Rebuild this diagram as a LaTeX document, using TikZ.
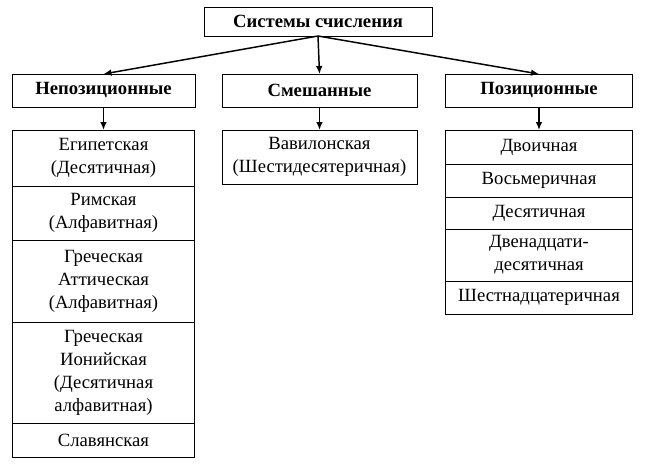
\documentclass[tikz,border=0pt]{standalone}
\usepackage{fontspec}
\setmainfont{Liberation Serif}
\usepackage{tikz}
\usetikzlibrary{shapes,arrows,arrows.meta}
\usetikzlibrary{positioning}

\begin{document}
\begin{tikzpicture}[>={Latex[length=6pt,width=5pt]},x=0.75pt,y=-0.75pt]

\tikzstyle{box} = [draw, rectangle, fill=white, line width=0.75pt, outer sep=0pt, inner sep=2pt, align=center, font={\fontsize{14}{17.25}\selectfont}];
\tikzstyle{head} = [box, minimum height=24.75pt, font={\bfseries\fontsize{14}{17.25}\selectfont}];
\tikzstyle{leftCell} = [box, minimum width=136.5pt];
\tikzstyle{midCell} = [box, minimum width=146.25pt];
\tikzstyle{rightCell} = [box, minimum width=140.25pt];
\tikzstyle{treeEdge} = [black, line width=1.1pt, ->];

\useasboundingbox (0,0) rectangle (645,468);

\node[head, name=root, minimum width=171pt, minimum height=21.75pt] at (318,21.5) {Системы счисления};
\node[head, name=nonpos, minimum width=137.25pt] at (103.5,90.5) {Непозиционные};
\node[head, name=mixed, minimum width=146.25pt] at (319.5,90.5) {Смешанные};
\node[head, name=pos, minimum width=140.25pt] at (539,90.5) {Позиционные};

% непозиционные
\node[leftCell, name=egypt, minimum height=42pt, below=17.25pt of nonpos] {Египетская\\(Десятичная)};
\node[leftCell, name=roman, minimum height=40.5pt, below=0pt of egypt] {Римская\\(Алфавитная)};
\node[leftCell, name=attic, minimum height=61.5pt, below=0pt of roman] {Греческая\\Аттическая\\(Алфавитная)};
\node[leftCell, name=ionic, minimum height=75.75pt, below=0pt of attic] {Греческая\\Ионийская\\(Десятичная\\алфавитная)};
\node[leftCell, name=slavic, minimum height=25.5pt, below=0pt of ionic] {Славянская};

% смешанные
\node[midCell, name=babylon, minimum height=40.5pt, below=17.25pt of mixed] {Вавилонская\\(Шестидесятеричная)};

% позиционные
\node[rightCell, name=binary, minimum height=25.5pt, below=17.25pt of pos] {Двоичная};
\node[rightCell, name=octal, minimum height=24.75pt, below=0pt of binary] {Восьмеричная};
\node[rightCell, name=decimal, minimum height=24pt, below=0pt of octal] {Десятичная};
\node[rightCell, name=duodec, minimum height=39pt, below=0pt of decimal] {Двенадцати-\\десятичная};
\node[rightCell, name=hex, minimum height=24.75pt, below=0pt of duodec] {Шестнадцатеричная};

\draw (root.south) edge[treeEdge] (nonpos.north);
\draw (root.south) edge[treeEdge] (mixed.north);
\draw (root.south) edge[treeEdge] (pos.north);
\draw (nonpos) edge[treeEdge] (egypt);
\draw (mixed) edge[treeEdge] (babylon);
\draw (pos) edge[treeEdge] (binary);
\end{tikzpicture}
\end{document}
